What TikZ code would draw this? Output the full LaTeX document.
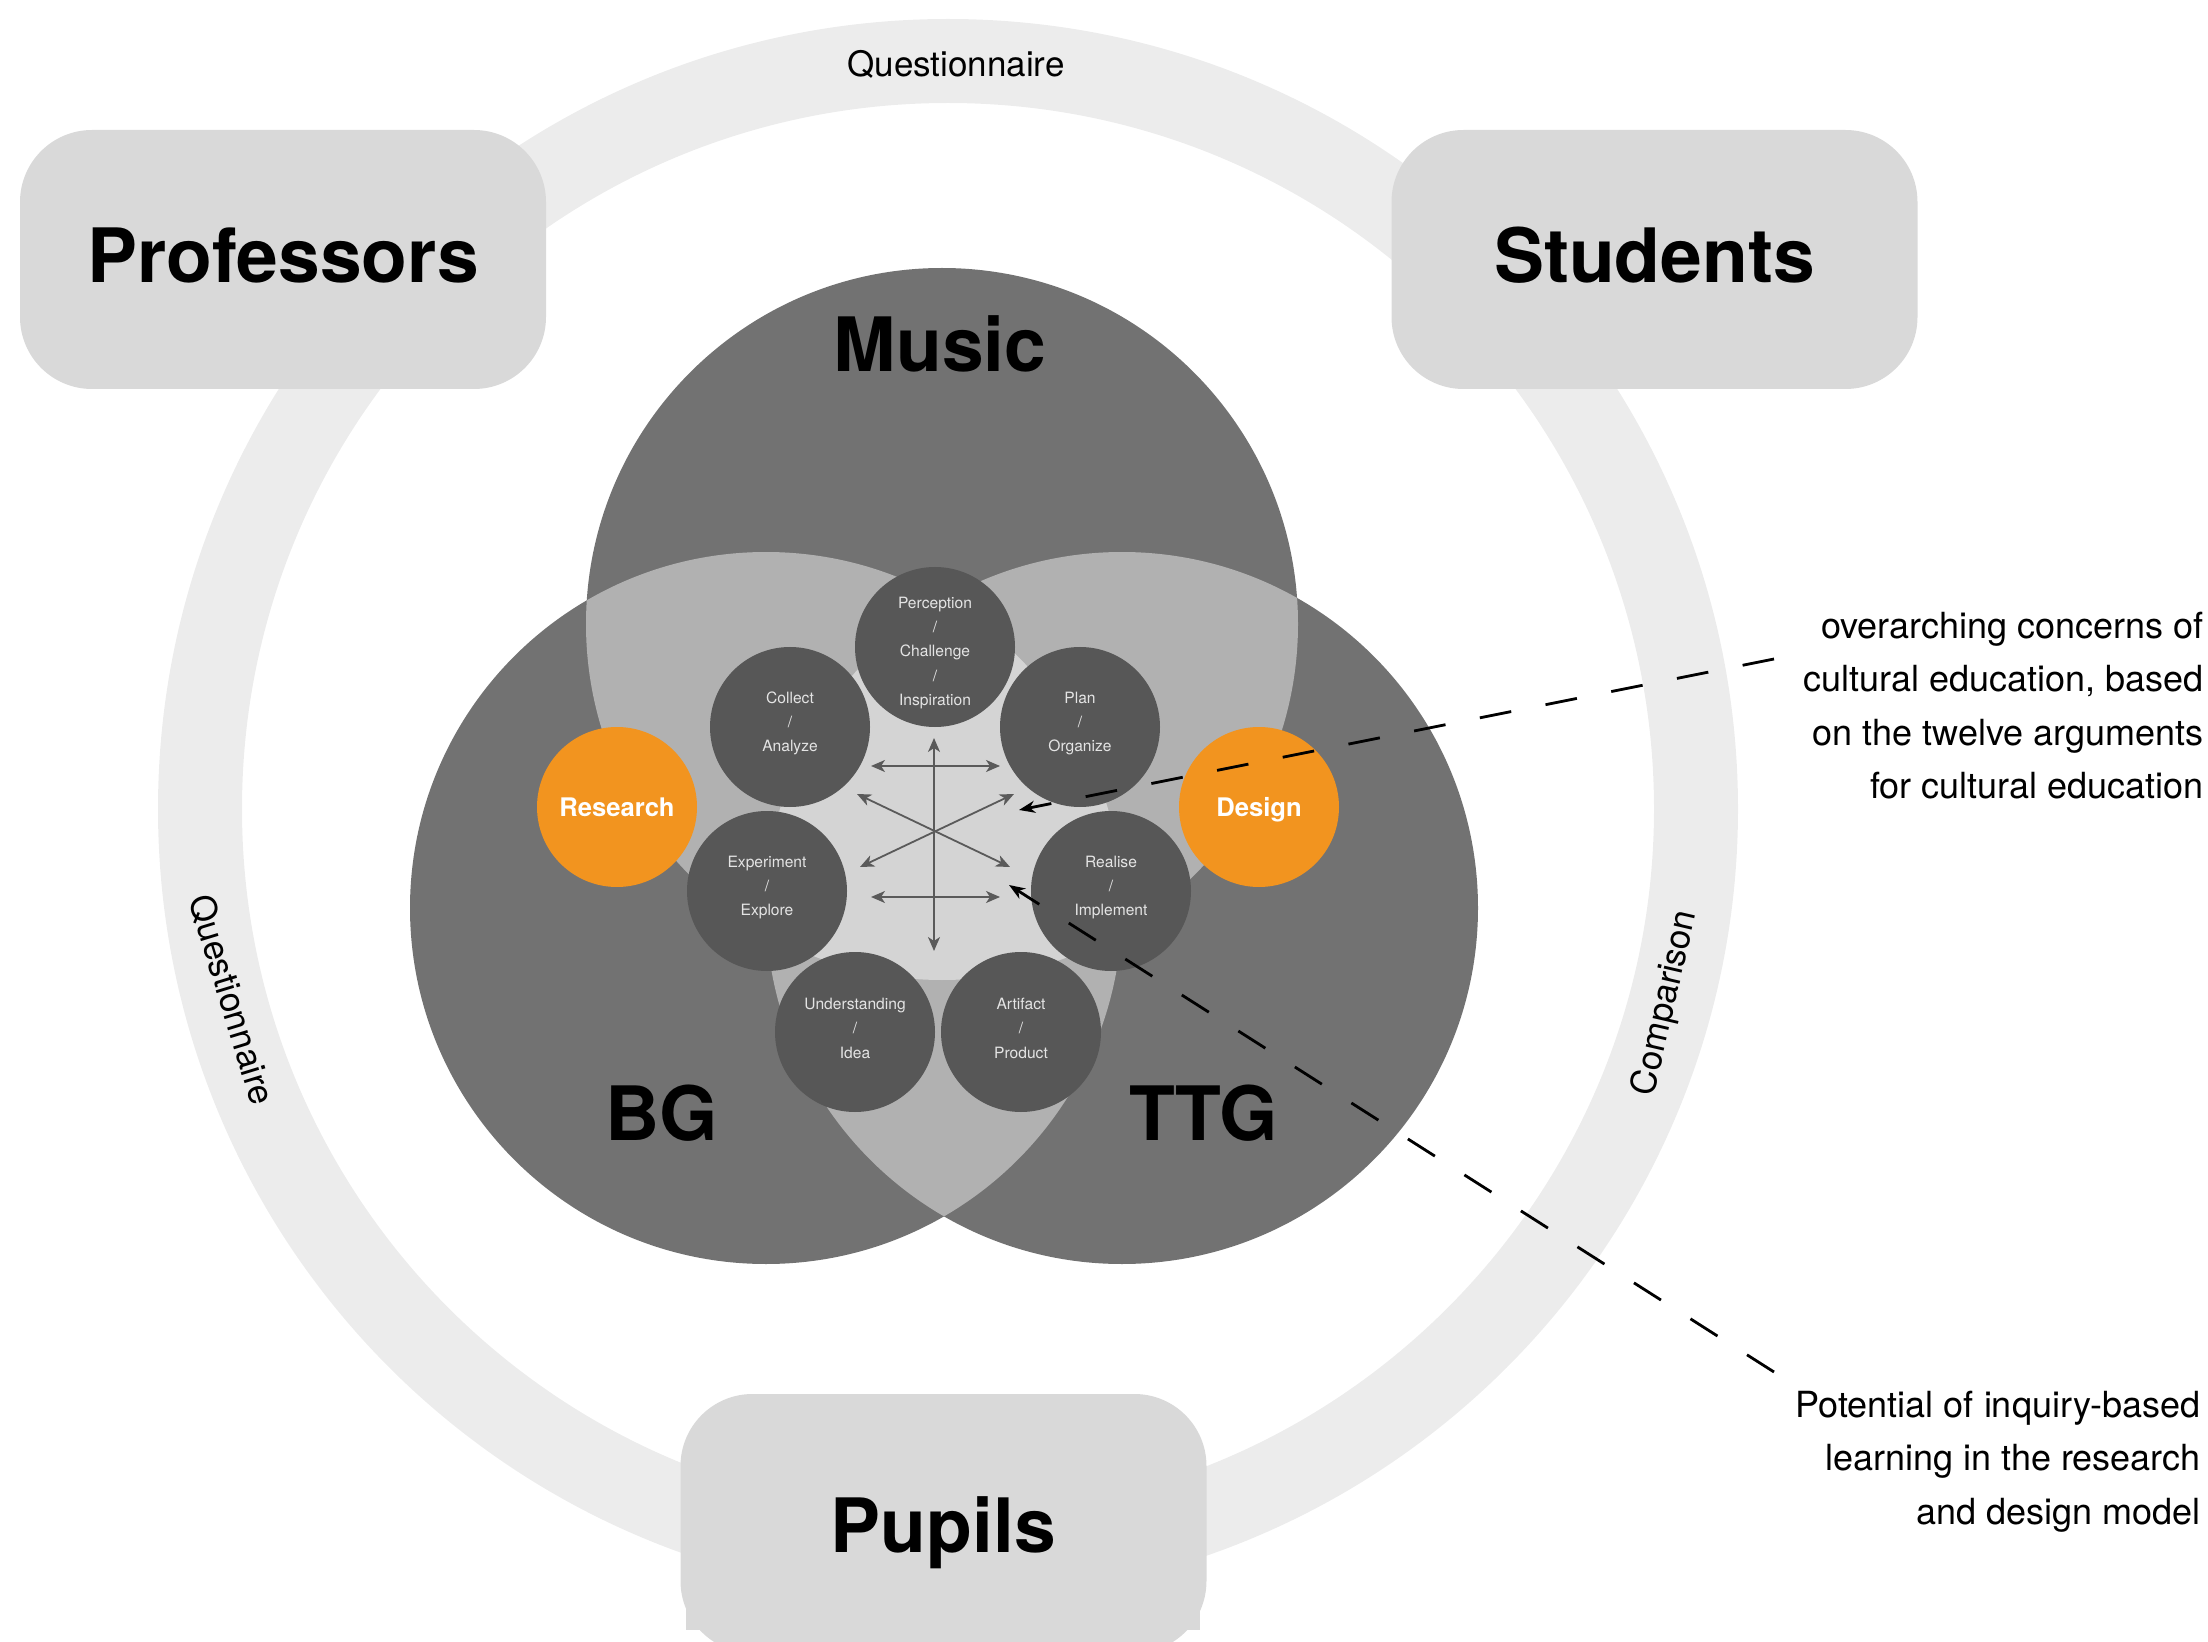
\documentclass[tikz,border=0pt]{standalone}
\usepackage{fontspec}
\setmainfont{TeX Gyre Heros}
\usetikzlibrary{arrows.meta}

\definecolor{ringgrey}{HTML}{ECECEC}
\definecolor{boxgrey}{HTML}{D9D9D9}
\definecolor{setdark}{HTML}{727272}
\definecolor{setmid}{HTML}{B1B1B1}
\definecolor{setlight}{HTML}{D4D4D4}
\definecolor{stepgrey}{HTML}{575757}
\definecolor{steptext}{HTML}{E4E4E4}
\definecolor{accent}{HTML}{F2941F}
\definecolor{arrowgrey}{HTML}{5A5A5A}

\tikzset{
  boxnode/.style={fill=boxgrey, rounded corners=36pt, minimum width=263pt,
    minimum height=129.5pt, inner sep=0pt},
  biglabel/.style={inner sep=0pt, font=\bfseries\fontsize{37.5pt}{40pt}\selectfont},
  ringlabel/.style={inner sep=0pt, font=\fontsize{17.5pt}{20pt}\selectfont},
  stepnode/.style={circle, fill=stepgrey, minimum size=80pt, inner sep=0pt},
  steplabel/.style={inner sep=0pt, text=steptext, align=center,
    font=\fontsize{7.8pt}{12.1pt}\selectfont},
  keynode/.style={circle, fill=accent, minimum size=80pt, inner sep=0pt},
  keylabel/.style={inner sep=0pt, text=white, font=\bfseries\fontsize{12.8pt}{14pt}\selectfont},
  note/.style={inner sep=0pt, align=right, font=\fontsize{18pt}{26.6pt}\selectfont},
  twoway/.style={draw=arrowgrey, line width=0.9pt,
    {Stealth[length=7pt,width=6pt,inset=2pt]}-{Stealth[length=7pt,width=6pt,inset=2pt]}},
  leader/.style={draw=black, line width=1.4pt, dash pattern=on 16pt off 17.5pt,
    -{Stealth[length=8pt,width=6pt,inset=2.5pt]}},
}

\begin{document}
\begin{tikzpicture}[x=0.5pt,y=-0.5pt]
  \useasboundingbox (0,0) rectangle (2208,1642);
  \clip (0,0) rectangle (2208,1642);

  % outer ring linking the three groups
  \coordinate (hub) at (948,809);
  \draw[ringgrey, line width=42pt] (hub) circle[radius=748];

  % the three groups
  \node[boxnode] (professors) at (283,259.5) {};
  \node[boxnode] (students) at (1654.5,259.5) {};
  \node[boxnode] (pupils) at (943.5,1523.5) {};
  \fill[boxgrey] (686,1607) rectangle (1200,1630);

  \node[biglabel, anchor=base] (proflabel) at (283,283) {Professors};
  \node[biglabel, anchor=base] (studlabel) at (1654.5,283) {Students};
  \node[biglabel, anchor=base] (pupillabel) at (943.5,1552) {Pupils};

  % labels on the ring
  \node[ringlabel, anchor=base] (qtop) at (956,77) {Questionnaire};
  \node[ringlabel, rotate=-73] (qleft) at (232,1000) {Questionnaire};
  \node[ringlabel, rotate=77] (comp) at (1666,1003) {Comparison};

  % three overlapping subject areas
  \coordinate (music) at (942,624);
  \coordinate (bg) at (766,908);
  \coordinate (ttg) at (1122,908);
  \fill[setdark] (music) circle[radius=356];
  \fill[setdark] (bg) circle[radius=356];
  \fill[setdark] (ttg) circle[radius=356];
  \begin{scope}
    \clip (music) circle[radius=356];
    \fill[setmid] (bg) circle[radius=356];
    \fill[setmid] (ttg) circle[radius=356];
  \end{scope}
  \begin{scope}
    \clip (bg) circle[radius=356];
    \fill[setmid] (ttg) circle[radius=356];
  \end{scope}
  \begin{scope}
    \clip (music) circle[radius=356];
    \clip (bg) circle[radius=356];
    \fill[setlight] (ttg) circle[radius=356];
  \end{scope}

  \node[biglabel, anchor=base] (musiclabel) at (940,372) {Music};
  \node[biglabel, anchor=base] (bglabel) at (662,1140) {BG};
  \node[biglabel, anchor=base] (ttglabel) at (1204,1140) {TTG};

  % steps of the research and design model
  \node[stepnode] (perception) at (935,647) {};
  \node[stepnode] (collect) at (790,727) {};
  \node[stepnode] (plan) at (1080,727) {};
  \node[stepnode] (experiment) at (767,891) {};
  \node[stepnode] (realise) at (1111,891) {};
  \node[stepnode] (understanding) at (855,1032) {};
  \node[stepnode] (artifact) at (1021,1032) {};

  \node[steplabel, yshift=-3pt] (perceptiontext) at (perception)
    {Perception\\/\\Challenge\\/\\Inspiration};
  \node[steplabel, yshift=1.8pt] (collecttext) at (collect) {Collect\\/\\Analyze};
  \node[steplabel, yshift=1.8pt] (plantext) at (plan) {Plan\\/\\Organize};
  \node[steplabel, yshift=1.8pt] (experimenttext) at (experiment) {Experiment\\/\\Explore};
  \node[steplabel, yshift=1.8pt] (realisetext) at (realise) {Realise\\/\\Implement};
  \node[steplabel, yshift=1.8pt] (understandingtext) at (understanding) {Understanding\\/\\Idea};
  \node[steplabel, yshift=1.8pt] (artifacttext) at (artifact) {Artifact\\/\\Product};

  \node[keynode] (research) at (617,807) {};
  \node[keynode] (design) at (1259,807) {};
  \node[keylabel, anchor=base] (researchlabel) at (617,816) {Research};
  \node[keylabel, anchor=base] (designlabel) at (1259,816) {Design};

  % arrows in the centre
  \coordinate (vtop) at (934,738);
  \coordinate (vbot) at (934,951);
  \coordinate (htl) at (871,766);
  \coordinate (htr) at (1000,766);
  \coordinate (hbl) at (871,897);
  \coordinate (hbr) at (1000,897);
  \coordinate (dul) at (857,794);
  \coordinate (dlr) at (1010,867);
  \coordinate (dll) at (860,867);
  \coordinate (dur) at (1014,794);
  \draw[twoway] (vtop) -- (vbot);
  \draw[twoway] (htl) -- (htr);
  \draw[twoway] (hbl) -- (hbr);
  \draw[twoway] (dul) -- (dlr);
  \draw[twoway] (dll) -- (dur);

  % annotations
  \node[note, anchor=north east] (concerns) at (2204,612)
    {overarching concerns of\\cultural education, based\\on the twelve arguments\\for cultural education};
  \node[note, anchor=north east] (potential) at (2201,1391)
    {Potential of inquiry-based\\learning in the research\\and design model};

  \coordinate (lead1) at (1774,659);
  \coordinate (tip1) at (1019,810);
  \coordinate (lead2) at (1774,1372);
  \coordinate (tip2) at (1009,885);
  \draw[leader] (lead1) -- (tip1);
  \draw[leader] (lead2) -- (tip2);
\end{tikzpicture}
\end{document}
